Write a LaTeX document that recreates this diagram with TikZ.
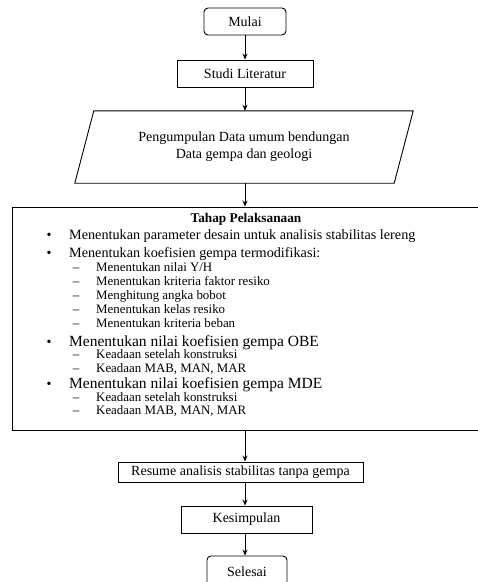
\documentclass[tikz,border=0pt]{standalone}
\usepackage{fontspec}
\setmainfont{Liberation Serif}
\usetikzlibrary{arrows.meta}
\begin{document}
\begin{tikzpicture}[x=1pt,y=-1pt,
  box/.style={draw, line width=0.9pt, inner sep=0pt, font=\fontsize{14}{17}\selectfont, align=center},
  term/.style={box, rounded corners=4pt},
  arr/.style={-{Stealth[length=6pt,width=5pt]}, line width=0.9pt},
  lvlone/.style={anchor=base west, inner sep=0pt, font=\fontsize{14.2}{17}\selectfont},
  lvlbig/.style={anchor=base west, inner sep=0pt, font=\fontsize{15.5}{17}\selectfont},
  lvltwo/.style={anchor=base west, inner sep=0pt, font=\fontsize{12.9}{15}\selectfont},
  mark1/.style={anchor=base, inner sep=0pt, font=\fontsize{14}{17}\selectfont},
  mark2/.style={anchor=base, inner sep=0pt, font=\fontsize{13}{15}\selectfont}]
\useasboundingbox (0,0) rectangle (478,582);
\coordinate (col) at (245,0);

\node[term, minimum width=82pt, minimum height=27pt] (mulai) at (245,21.5) {Mulai};
\node[box, minimum width=136pt, minimum height=27pt] (studi) at (245,73.5) {Studi Literatur};
\node[inner sep=0pt, minimum width=338pt, minimum height=72pt, font=\fontsize{14}{17}\selectfont, align=center] (data) at (244,147) {Pengumpulan Data umum bendungan\\Data gempa dan geologi};
\draw[line width=0.9pt] ([xshift=19pt]data.north west) -- (data.north east) -- ([xshift=-19pt]data.south east) -- (data.south west) -- cycle;

\node[draw, line width=0.9pt, inner sep=0pt, minimum width=476pt, minimum height=223pt] (tahap) at (250,318.5) {};
\node[anchor=base, inner sep=0pt, font=\fontsize{13.3}{15}\selectfont\bfseries] (title) at (246,222) {Tahap Pelaksanaan};

\node[mark1] (b1) at (49,239) {\textbullet};
\node[lvlone] (t1) at (69,239) {Menentukan parameter desain untuk analisis stabilitas lereng};
\node[mark1] (b2) at (49,257) {\textbullet};
\node[lvlone] (t2) at (69,257) {Menentukan koefisien gempa termodifikasi:};
\node[mark2] (d1) at (76,271.5) {–};
\node[lvltwo] (s1) at (96,271.5) {Menentukan nilai Y/H};
\node[mark2] (d2) at (76,285.5) {–};
\node[lvltwo] (s2) at (96,285.5) {Menentukan kriteria faktor resiko};
\node[mark2] (d3) at (76,299.5) {–};
\node[lvltwo] (s3) at (96,299.5) {Menghitung angka bobot};
\node[mark2] (d4) at (76,313.5) {–};
\node[lvltwo] (s4) at (96,313.5) {Menentukan kelas resiko};
\node[mark2] (d5) at (76,327.5) {–};
\node[lvltwo] (s5) at (96,327.5) {Menentukan kriteria beban};
\node[mark1] (b3) at (49,346.5) {\textbullet};
\node[lvlbig] (t3) at (69,346.5) {Menentukan nilai koefisien gempa OBE};
\node[mark2] (d6) at (76,358.5) {–};
\node[lvltwo] (s6) at (96,358.5) {Keadaan setelah konstruksi};
\node[mark2] (d7) at (76,372.5) {–};
\node[lvltwo] (s7) at (96,372.5) {Keadaan MAB, MAN, MAR};
\node[mark1] (b4) at (49,388.5) {\textbullet};
\node[lvlbig] (t4) at (69,388.5) {Menentukan nilai koefisien gempa MDE};
\node[mark2] (d8) at (76,401) {–};
\node[lvltwo] (s8) at (96,401) {Keadaan setelah konstruksi};
\node[mark2] (d9) at (76,414.5) {–};
\node[lvltwo] (s9) at (96,414.5) {Keadaan MAB, MAN, MAR};

\node[box, minimum width=245pt, minimum height=20pt] (resume) at (240.5,472) {Resume analisis stabilitas tanpa gempa};
\node[box, minimum width=131pt, minimum height=27pt] (kesim) at (246.5,519.5) {Kesimpulan};
\node[term, minimum width=80pt, minimum height=32pt] (selesai) at (247,572) {Selesai};

\draw[arr] (col |- mulai.south) -- (col |- studi.north);
\draw[arr] (col |- studi.south) -- (col |- data.north);
\draw[arr] (col |- data.south) -- (col |- tahap.north);
\draw[arr] (col |- tahap.south) -- (col |- resume.north);
\draw[arr] (col |- resume.south) -- (col |- kesim.north);
\draw[arr] (col |- kesim.south) -- (col |- selesai.north);
\end{tikzpicture}
\end{document}
